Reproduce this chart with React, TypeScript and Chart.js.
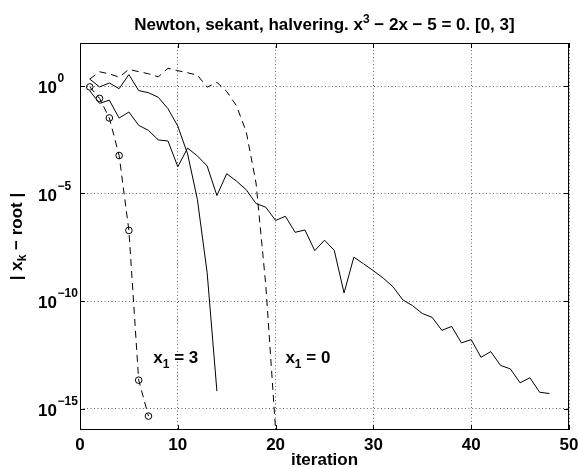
import React, { useEffect, useRef } from "react";
import { Chart, registerables } from "chart.js";

Chart.register(...registerables);

// Newton's method started at x1 = 3: |x_k - root|
const iterNewton3 = [1, 2, 3, 4, 5, 6, 7];
const errNewton3 = [0.9054, 0.2654, 0.03264, 5.845e-4, 1.922e-7, 2.08e-14, 4.44e-16];

// Secant method on the endpoints 0 and 3
const iterSecant = [1, 2, 3, 4, 5, 6, 7, 8, 9, 10, 11, 12, 13, 14];
const errSecant = [
  2.0946, 0.9054, 1.3803, 0.7521, 3.3893, 0.6107, 0.4883, 0.2993, 0.0877, 0.01357,
  6.985e-4, 5.36e-6, 2.11e-9, 6.4e-15,
];

// Newton's method started at x1 = 0
const iterNewton0 = [1, 2, 3, 4, 5, 6, 7, 8, 9, 10, 11, 12, 13, 14, 15, 16, 17, 18, 19, 20];
const errNewton0 = [
  2.0946, 4.5946, 3.6617, 2.5971, 5.9153, 4.6439, 3.7027, 2.6706, 6.692, 5.1779,
  4.1166, 3.2182, 0.8849, 1.4788, 0.5566, 0.1201, 7.4e-3, 3.07e-5, 5.3e-10, 1e-16,
];

// Bisection (halvering) on [0, 3]
const iterBisect = [
  1, 2, 3, 4, 5, 6, 7, 8, 9, 10, 11, 12, 13, 14, 15, 16, 17, 18, 19, 20, 21, 22, 23, 24,
  25, 26, 27, 28, 29, 30, 31, 32, 33, 34, 35, 36, 37, 38, 39, 40, 41, 42, 43, 44, 45, 46, 47, 48,
];
const errBisect = [
  0.5946, 0.1554, 0.2196, 0.03205, 0.06171, 0.01482, 8.614e-3, 3.105e-3, 2.755e-3, 1.75e-4,
  1.29e-3, 5.57e-4, 1.911e-4, 8.02e-6, 8.35e-5, 3.775e-5, 1.486e-5, 3.42e-6, 2.3e-6, 5.59e-7,
  8.72e-7, 1.567e-7, 2.01e-7, 2.21e-8, 6.73e-8, 2.26e-8, 2.36e-10, 1.094e-8, 5.35e-9, 2.56e-9,
  1.161e-9, 4.63e-10, 1.135e-10, 6.11e-11, 2.62e-11, 1.75e-11, 4.33e-12, 6.58e-12, 1.124e-12, 1.604e-12,
  2.4e-13, 4.42e-13, 1.009e-13, 6.97e-14, 1.56e-14, 2.7e-14, 5.69e-15, 4.97e-15,
];

const xTicks = [0, 10, 20, 30, 40, 50];
const yTickExponents = [0, -5, -10, -15];
const xMin = 0;
const xMax = 50;
const yMin = 1e-16;
const yMax = 1e2;

const FONT = '"Liberation Sans", Arial, Helvetica, sans-serif';
const FS = 17; // main text size
const FS_SMALL = 12; // sub/superscripts

type Seg = { t: string; size: number; dy: number };

function segWidth(ctx: CanvasRenderingContext2D, segs: Seg[]) {
  let w = 0;
  for (const s of segs) {
    ctx.font = `bold ${s.size}px ${FONT}`;
    w += ctx.measureText(s.t).width;
  }
  return w;
}

function drawSegs(
  ctx: CanvasRenderingContext2D,
  segs: Seg[],
  x: number,
  y: number,
  align: "left" | "center" | "right"
) {
  const w = segWidth(ctx, segs);
  let cx = align === "left" ? x : align === "center" ? x - w / 2 : x - w;
  ctx.textAlign = "left";
  ctx.textBaseline = "alphabetic";
  for (const s of segs) {
    ctx.font = `bold ${s.size}px ${FONT}`;
    ctx.fillText(s.t, cx, y + s.dy);
    cx += ctx.measureText(s.t).width;
  }
}

const axesDecor = {
  id: "axesDecor",
  afterDraw(chart: any) {
    const ctx: CanvasRenderingContext2D = chart.ctx;
    const { left, right, top, bottom } = chart.chartArea;
    const xs = chart.scales.x;
    const ys = chart.scales.y;
    ctx.save();
    ctx.fillStyle = "#000";
    ctx.strokeStyle = "#000";
    ctx.lineWidth = 1;
    ctx.setLineDash([]);

    // box
    ctx.strokeRect(left + 0.5, top + 0.5, right - left - 1, bottom - top - 1);

    // inward tick marks
    const tl = 5;
    ctx.beginPath();
    for (const v of xTicks) {
      const px = Math.round(xs.getPixelForValue(v)) + 0.5;
      ctx.moveTo(px, bottom);
      ctx.lineTo(px, bottom - tl);
      ctx.moveTo(px, top);
      ctx.lineTo(px, top + tl);
    }
    for (const e of yTickExponents) {
      const py = Math.round(ys.getPixelForValue(Math.pow(10, e))) + 0.5;
      ctx.moveTo(left, py);
      ctx.lineTo(left + tl, py);
      ctx.moveTo(right, py);
      ctx.lineTo(right - tl, py);
    }
    ctx.stroke();

    // x tick labels
    ctx.font = `bold ${FS}px ${FONT}`;
    ctx.textAlign = "center";
    ctx.textBaseline = "alphabetic";
    for (const v of xTicks) {
      ctx.fillText(String(v), xs.getPixelForValue(v), bottom + 20);
    }

    // y tick labels: "10" with raised exponent
    for (const e of yTickExponents) {
      const py = ys.getPixelForValue(Math.pow(10, e));
      ctx.font = `bold ${FS}px ${FONT}`;
      ctx.textAlign = "right";
      ctx.fillText("10", left - 23, py + 7);
      ctx.font = `bold ${FS_SMALL}px ${FONT}`;
      ctx.textAlign = "left";
      ctx.fillText(e === 0 ? "0" : "\u2212" + String(-e), left - 23 + 0.5, py - 4);
    }

    // title
    const cxMid = (left + right) / 2;
    drawSegs(
      ctx,
      [
        { t: "Newton, sekant, halvering. x", size: FS, dy: 0 },
        { t: "3", size: FS_SMALL, dy: -7 },
        { t: " \u2212 2x \u2212 5 = 0. [0, 3]", size: FS, dy: 0 },
      ],
      cxMid,
      30,
      "center"
    );

    // x axis label
    ctx.font = `bold ${FS}px ${FONT}`;
    ctx.textAlign = "center";
    ctx.fillText("iteration", cxMid, 465);

    // y axis label (rotated)
    ctx.save();
    ctx.translate(22, (top + bottom) / 2);
    ctx.rotate(-Math.PI / 2);
    drawSegs(
      ctx,
      [
        { t: "| x", size: FS, dy: 0 },
        { t: "k", size: FS_SMALL, dy: 4 },
        { t: " \u2212 root |", size: FS, dy: 0 },
      ],
      0,
      0,
      "center"
    );
    ctx.restore();

    // starting-point annotations
    const labY = ys.getPixelForValue(Math.pow(10, -12.88));
    for (const [xv, txt] of [
      [7.5, " = 3"],
      [21, " = 0"],
    ] as [number, string][]) {
      drawSegs(
        ctx,
        [
          { t: "x", size: FS, dy: 0 },
          { t: "1", size: FS_SMALL, dy: 5 },
          { t: txt, size: FS, dy: 0 },
        ],
        xs.getPixelForValue(xv),
        labY,
        "left"
      );
    }
    ctx.restore();
  },
};

const toXY = (xs: number[], ys: number[]) => xs.map((x, i) => ({ x, y: ys[i] }));

export default function App() {
  const ref = useRef<HTMLCanvasElement | null>(null);

  useEffect(() => {
    if (!ref.current) return;
    const base = {
      borderColor: "#000",
      borderWidth: 1,
      fill: false,
      tension: 0,
      pointRadius: 0,
    };
    const chart = new Chart(ref.current, {
      type: "line",
      data: {
        datasets: [
          {
            ...base,
            label: "Newton, x1 = 3",
            data: toXY(iterNewton3, errNewton3),
            borderDash: [7, 5],
            pointRadius: 3.3,
            pointBorderWidth: 1,
            pointBorderColor: "#000",
            pointBackgroundColor: "rgba(0,0,0,0)",
          },
          {
            ...base,
            label: "Sekant",
            data: toXY(iterSecant, errSecant),
          },
          {
            ...base,
            label: "Newton, x1 = 0",
            data: toXY(iterNewton0, errNewton0),
            borderDash: [7, 5],
          },
          {
            ...base,
            label: "Halvering",
            data: toXY(iterBisect, errBisect),
          },
        ],
      },
      options: {
        animation: false,
        responsive: false,
        devicePixelRatio: 1,
        layout: { padding: { left: 80, right: 9, top: 43, bottom: 38 } },
        plugins: {
          legend: { display: false },
          tooltip: { enabled: false },
          title: { display: false },
        },
        scales: {
          x: {
            type: "linear",
            min: xMin,
            max: xMax,
            ticks: { display: false, stepSize: 10 },
            grid: { color: "#666", lineWidth: 1, drawTicks: false },
            border: { display: false, dash: [1, 2.5] },
          },
          y: {
            type: "logarithmic",
            min: yMin,
            max: yMax,
            afterBuildTicks: (scale: any) => {
              scale.ticks = yTickExponents.map((e) => ({ value: Math.pow(10, e) }));
            },
            ticks: { display: false },
            grid: { color: "#666", lineWidth: 1, drawTicks: false },
            border: { display: false, dash: [1, 2.5] },
          },
        },
      },
      plugins: [axesDecor],
    } as any);
    return () => chart.destroy();
  }, []);

  return (
    <div style={{ position: "fixed", left: 0, top: 0, width: 578, height: 468, background: "#fff" }}>
      <canvas ref={ref} width={578} height={468} style={{ display: "block" }} />
    </div>
  );
}
